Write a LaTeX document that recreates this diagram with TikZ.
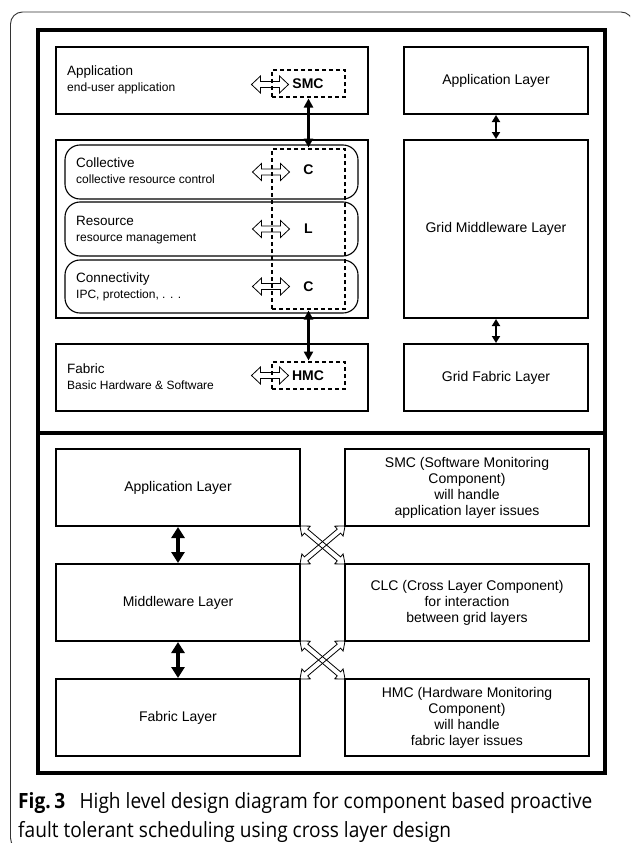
\documentclass[tikz,border=0pt]{standalone}
\usepackage{fontspec}
\setmainfont{Liberation Sans}
\newfontfamily\capfont[FakeStretch=0.91]{Open Sans}
\usetikzlibrary{arrows.meta,calc}

\tikzset{
  frame/.style={line width=3.5pt},
  layerbox/.style={draw, line width=2pt, inner sep=0pt, font=\fontsize{14}{16}\selectfont, align=center},
  roundbox/.style={draw, line width=1.1pt, rounded corners=15pt, inner sep=0pt},
  dashbox/.style={draw, line width=2pt, dash pattern=on 4pt off 3pt, inner sep=0pt},
  title/.style={anchor=base west, inner sep=0pt, font=\fontsize{13.5}{16}\selectfont},
  subtitle/.style={anchor=base west, inner sep=0pt, font=\fontsize{12}{14}\selectfont},
  tag/.style={inner sep=0pt, font=\bfseries\fontsize{14}{16}\selectfont},
  link/.style={line width=2.4pt, {Triangle[width=9pt,length=9pt]}-{Triangle[width=9pt,length=9pt]}, shorten >=0.5pt, shorten <=0.5pt},
  smalllink/.style={line width=1.8pt, {Triangle[width=8pt,length=7pt]}-{Triangle[width=8pt,length=7pt]}},
  biglink/.style={line width=3.4pt, {Triangle[width=13pt,length=11pt]}-{Triangle[width=13pt,length=11pt]}},
  captext/.style={anchor=base west, inner sep=0pt, font=\capfont\fontsize{21}{29}\selectfont},
  % outlined two-headed arrow, #1 = half length
  pics/hollowarrow/.style={code={
    \draw[line width=0.8pt, line join=miter]
      (-#1,0) -- (-#1+9,8.5) -- (-#1+9,3) -- (#1-9,3) -- (#1-9,8.5) -- (#1,0)
      -- (#1-9,-8.5) -- (#1-9,-3) -- (-#1+9,-3) -- (-#1+9,-8.5) -- cycle;
  }},
  pics/crossarrow/.style={code={
    \draw[line width=0.8pt, line join=miter]
      (-#1,0) -- (-#1+8,6.5) -- (-#1+8,2.6) -- (#1-8,2.6) -- (#1-8,6.5) -- (#1,0)
      -- (#1-8,-6.5) -- (#1-8,-2.6) -- (-#1+8,-2.6) -- (-#1+8,-6.5) -- cycle;
  }},
}

\begin{document}
\begin{tikzpicture}[x=1pt, y=-1pt]
\useasboundingbox (0,0) rectangle (630,843);
\clip (0,0) rectangle (630,843);

% figure panel outline
\draw[line width=0.9pt, black!80, rounded corners=12pt] (10.5,12) rectangle (633,850);

% heavy outer frame and divider
\draw[frame] (38,30) rectangle (605,773);
\draw[frame] (38,433) -- (605,433);

% ---------- upper part: protocol stack ----------
\node[layerbox, minimum width=312, minimum height=67] (appL) at (212,80.5) {};
\node[layerbox, minimum width=312, minimum height=178] (midL) at (212,229) {};
\node[layerbox, minimum width=312, minimum height=67] (fabL) at (212,377.5) {};

\node[roundbox, minimum width=293, minimum height=54] (coll) at (211.5,172) {};
\node[roundbox, minimum width=293, minimum height=54] (reso) at (211.5,229) {};
\node[roundbox, minimum width=293, minimum height=53] (conn) at (211.5,286.5) {};

\node[title] (appT) at (67,76) {Application};
\node[subtitle] (appS) at (67,92) {end-user application};
\node[title] (collT) at (76,167) {Collective};
\node[subtitle] (collS) at (76,183) {collective resource control};
\node[title] (resoT) at (76,225) {Resource};
\node[subtitle] (resoS) at (76,241) {resource management};
\node[title] (connT) at (76,282.5) {Connectivity};
\node[subtitle] (connS) at (76,298.5) {IPC, protection, . . .};
\node[title] (fabT) at (67,373) {Fabric};
\node[subtitle] (fabS) at (67,389) {Basic Hardware \& Software};

% monitoring components
\node[dashbox, minimum width=73, minimum height=27] (smc) at (308.5,83.5) {};
\node[dashbox, minimum width=73, minimum height=160] (clc) at (308.5,229) {};
\node[dashbox, minimum width=73, minimum height=27] (hmc) at (308.5,375.5) {};

\node[tag] (smcT) at (308,84) {SMC};
\node[tag] (hmcT) at (308,376) {HMC};
\node[tag] (c1) at ($(clc.center |- coll.center)+(0,-2)$) {C};
\node[tag] (l1) at (clc.center |- reso.center) {L};
\node[tag] (c2) at (clc.center |- conn.center) {C};

\pic at ($(smc.west)+(-1,1)$) {hollowarrow=18.5};
\pic at (clc.west |- coll.center) {hollowarrow=18.5};
\pic at (clc.west |- reso.center) {hollowarrow=18.5};
\pic at (clc.west |- conn.center) {hollowarrow=18.5};
\pic at ($(hmc.west)+(-1,0)$) {hollowarrow=18.5};

\draw[link] (smc.south) -- (clc.north);
\draw[link] (clc.south) -- (hmc.north);

% grid layers
\node[layerbox, minimum width=184, minimum height=67] (appR) at (496,80.5) {Application Layer};
\node[layerbox, minimum width=184, minimum height=178] (midR) at (496,229) {Grid Middleware Layer};
\node[layerbox, minimum width=184, minimum height=67] (fabR) at (496,377.5) {Grid Fabric Layer};

\draw[smalllink] (appR.south) -- (midR.north);
\draw[smalllink] (midR.south) -- (fabR.north);

% ---------- lower part: layers and components ----------
\node[layerbox, minimum width=244, minimum height=77] (sa) at (178,487.5) {Application Layer};
\node[layerbox, minimum width=244, minimum height=77] (sm) at (178,602.5) {Middleware Layer};
\node[layerbox, minimum width=244, minimum height=77] (sf) at (178,717.5) {Fabric Layer};

\node[layerbox, minimum width=244, minimum height=77] (ra) at (467,487.5)
  {SMC (Software Monitoring\\Component)\\will handle\\application layer issues};
\node[layerbox, minimum width=244, minimum height=77] (rm) at (467,602.5)
  {CLC (Cross Layer Component)\\for interaction\\between grid layers};
\node[layerbox, minimum width=244, minimum height=77] (rf) at (467,717.5)
  {HMC (Hardware Monitoring\\Component)\\will handle\\fabric layer issues};

\draw[biglink] (sa.south) -- (sm.north);
\draw[biglink] (sm.south) -- (sf.north);

\pic[rotate=40.2] at ($(sa.south east)!0.5!(rm.north west)$) {crossarrow=29.5};
\pic[rotate=-40.2] at ($(sa.south east)!0.5!(rm.north west)$) {crossarrow=29.5};
\pic[rotate=40.2] at ($(sm.south east)!0.5!(rf.north west)$) {crossarrow=29.5};
\pic[rotate=-40.2] at ($(sm.south east)!0.5!(rf.north west)$) {crossarrow=29.5};

% caption
\node[captext] (cap1) at (18,808)
  {\textbf{Fig.\,3}\hspace{0.45em} High level design diagram for component based proactive};
\node[captext] (cap2) at (18,837)
  {fault tolerant scheduling using cross layer design};
\end{tikzpicture}
\end{document}
